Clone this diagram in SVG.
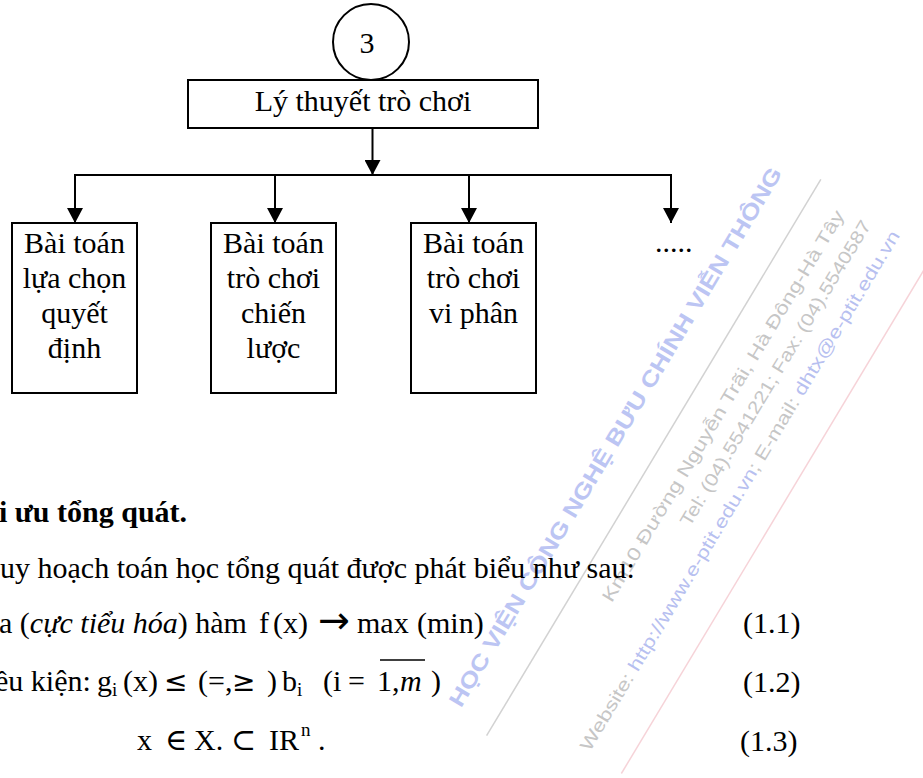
<svg xmlns="http://www.w3.org/2000/svg" width="923" height="778" viewBox="0 0 923 778">
<style>
text{font-family:"Liberation Serif","Times New Roman","DejaVu Serif",serif;font-size:30px;fill:#000}
.c{text-anchor:middle}
.sub{font-size:19px}
.sym{font-family:"DejaVu Sans",sans-serif;font-size:28px}
.arr{font-family:"DejaVu Sans",sans-serif;font-size:38px}
.box{fill:#fff;stroke:#000;stroke-width:2}
.ln{stroke:#000;stroke-width:2;fill:none}
.wm{font-family:"Liberation Sans",Arial,sans-serif}
.wmbig{font-size:22px;font-weight:bold;fill:#bcc5f3}
.wmsm{font-size:18px;fill:#c6c6c6}
.wmbl{fill:#b7c0f0}
</style>
<defs>
<marker id="ah" markerUnits="userSpaceOnUse" markerWidth="15" markerHeight="16" refX="15" refY="8" orient="auto">
<path d="M0,0 L15,8 L0,16 z" fill="#000"/>
</marker>
</defs>
<rect width="923" height="778" fill="#fff"/>
<g id="watermark" transform="rotate(-59)">
<text class="wm wmbig" x="-370" y="760" textLength="625" lengthAdjust="spacingAndGlyphs">HỌC VIỆN CÔNG NGHỆ BƯU CHÍNH VIỄN THÔNG</text>
<line x1="-380" y1="796" x2="269" y2="796" stroke="#d2d2d2" stroke-width="1.5"/>
<text class="wm wmsm" x="-202" y="835" textLength="453" lengthAdjust="spacingAndGlyphs">Km10 Đường Nguyễn Trãi, Hà Đông-Hà Tây</text>
<text class="wm wmsm" x="-97" y="863" textLength="353" lengthAdjust="spacingAndGlyphs">Tel: (04).5541221; Fax: (04).5540587</text>
<text class="wm wmsm" x="-341" y="893" textLength="603" lengthAdjust="spacingAndGlyphs">Website: <tspan class="wmbl">http://www.e-ptit.edu.vn</tspan>; E-mail: <tspan class="wmbl">dhtx@e-ptit.edu.vn</tspan></text>
<line x1="-343" y1="931" x2="320" y2="931" stroke="#f6d3d8" stroke-width="1.5"/>
</g>
<g id="connectors">
<line class="ln" x1="372.5" y1="128" x2="372.5" y2="175" marker-end="url(#ah)"/>
<line class="ln" x1="74" y1="175" x2="672" y2="175"/>
<line class="ln" x1="75" y1="175" x2="75" y2="223" marker-end="url(#ah)"/>
<line class="ln" x1="275" y1="175" x2="275" y2="223" marker-end="url(#ah)"/>
<line class="ln" x1="469" y1="175" x2="469" y2="223" marker-end="url(#ah)"/>
<line class="ln" x1="671" y1="175" x2="671" y2="223" marker-end="url(#ah)"/>
</g>
<g id="node-3">
<circle cx="371" cy="42" r="38" class="box"/>
<text class="c" x="367" y="53">3</text>
</g>
<g id="node-ly-thuyet">
<rect class="box" x="188" y="80" width="350" height="48"/>
<text class="c" x="363" y="111">Lý thuyết trò chơi</text>
</g>
<g id="node-lua-chon">
<rect class="box" x="12" y="223" width="125" height="170"/>
<text class="c" x="74.5" y="253">Bài toán</text>
<text class="c" x="74.5" y="288">lựa chọn</text>
<text class="c" x="74.5" y="323">quyết</text>
<text class="c" x="74.5" y="358">định</text>
</g>
<g id="node-chien-luoc">
<rect class="box" x="211" y="223" width="125" height="170"/>
<text class="c" x="273.5" y="253">Bài toán</text>
<text class="c" x="273.5" y="288">trò chơi</text>
<text class="c" x="273.5" y="323">chiến</text>
<text class="c" x="273.5" y="358">lược</text>
</g>
<g id="node-vi-phan">
<rect class="box" x="411" y="223" width="125" height="170"/>
<text class="c" x="473.5" y="253">Bài toán</text>
<text class="c" x="473.5" y="288">trò chơi</text>
<text class="c" x="473.5" y="323">vi phân</text>
</g>
<g id="node-more">
<text x="655" y="252">.....</text>
</g>
<g id="body-text">
<text x="-1" y="522" font-weight="bold">i ưu tổng quát.</text>
<text x="0" y="578">uy hoạch toán học tổng quát được phát biểu như sau:</text>
<text x="-1" y="633">a (<tspan font-style="italic">cực tiểu hóa</tspan>) hàm</text>
<text x="259" y="633">f</text>
<text x="273" y="633">(x)</text>
<text class="arr" x="318" y="633">→</text>
<text x="357" y="633">max</text>
<text x="417" y="633">(min)</text>
<text x="-5" y="691">ều kiện:</text>
<text x="97" y="691">g</text>
<text class="sub" x="112" y="696">i</text>
<text x="123" y="691">(x)</text>
<text class="sym" x="164" y="691">≤</text>
<text x="198" y="691">(</text>
<text x="208" y="691">=</text>
<text x="225" y="691">,</text>
<text class="sym" x="232" y="691">≥</text>
<text x="267" y="691">)</text>
<text x="282" y="691">b</text>
<text class="sub" x="297" y="696">i</text>
<text x="323" y="691">(i</text>
<text x="348" y="691">=</text>
<text x="377" y="691">1,</text>
<text x="400" y="691" font-style="italic">m</text>
<text x="431" y="691">)</text>
<line x1="380" y1="660" x2="425" y2="660" stroke="#000" stroke-width="1.5"/>
<text x="137" y="750">x</text>
<text x="165" y="750">∈</text>
<text x="194" y="750">X.</text>
<text x="231" y="750">⊂</text>
<text x="269" y="750">IR</text>
<text class="sub" x="301" y="736">n</text>
<text x="318" y="750">.</text>
<text x="743" y="633">(1.1)</text>
<text x="743" y="692">(1.2)</text>
<text x="740" y="751">(1.3)</text>
</g>
</svg>
